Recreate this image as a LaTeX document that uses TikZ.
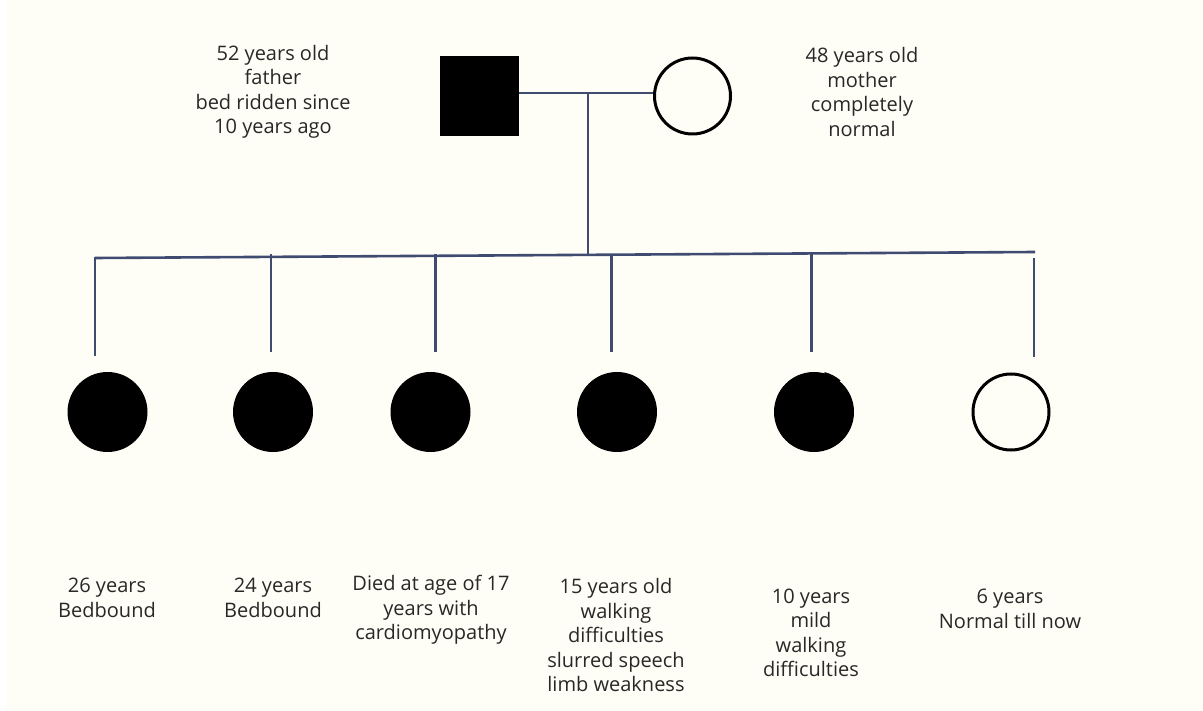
\documentclass[tikz,border=0pt]{standalone}
\usepackage{fontspec}
\setmainfont{Open Sans}
\definecolor{bgcream}{RGB}{255,254,246}
\definecolor{linkblue}{RGB}{64,75,114}
\definecolor{txtgray}{RGB}{40,40,40}
\begin{document}
\begin{tikzpicture}[x=1pt,y=-1pt,
  affsq/.style={fill=black,draw=none,minimum width=79pt,minimum height=80pt,inner sep=0pt},
  affci/.style={circle,fill=black,draw=none,minimum size=80pt,inner sep=0pt},
  unci/.style={circle,draw=black,line width=3pt,fill=bgcream,minimum size=76pt,inner sep=0pt},
  link/.style={draw=linkblue,line width=2.6pt},
  lbl/.style={align=center,font=\fontsize{20}{24.5}\selectfont,text=txtgray,inner sep=0pt}]
\useasboundingbox (0,0) rectangle (1203,711);
\fill[white] (0,0) rectangle (1203,711);
\fill[bgcream] (6,0) rectangle (1203,711);
% parents
\node[affsq] (father) at (479.5,96) {};
\node[unci] (mother) at (692.5,96) {};
\coordinate (m) at (588,93);
\coordinate (sj) at (588,254.5);
\coordinate (sL) at (95,258);
\coordinate (sR) at (1035,252);
\draw[link] (father.east |- m) -- (mother.west |- m);
\draw[link] (m) -- (sj);
\draw[link] (sL) -- (sR);
% children
\node[affci] (c1) at (107.5,412) {};
\node[affci] (c2) at (273,412) {};
\node[affci] (c3) at (430.5,412) {};
\node[affci] (c4) at (617,412) {};
\node[affci] (c5) at (814,412) {};
\node[unci] (c6) at (1011,412) {};
\draw[line width=1.6pt] (c5) ++(-75:40.5) arc (-75:-50:40.5);
% drops
\coordinate (t1) at (95,256.8);
\coordinate (d1) at (95,356);
\coordinate (t2) at (271,254);
\coordinate (d2) at (271,352);
\coordinate (t3) at (435.5,254);
\coordinate (d3) at (435.5,352);
\coordinate (t4) at (611.5,254);
\coordinate (d4) at (611.5,352);
\coordinate (t5) at (811.5,254);
\coordinate (d5) at (811.5,352);
\coordinate (t6) at (1034,258);
\coordinate (d6) at (1034,357);
\foreach \i in {1,...,6} {\draw[link] (t\i) -- (d\i);}
% labels
\node[lbl] (lf) at (273,92) {52 years old\\father\\bed ridden since\\10 years ago};
\node[lbl] (lm) at (862,92) {48 years old\\mother\\completely\\normal};
\node[lbl] (l1) at (107,598) {26 years\\Bedbound};
\node[lbl] (l2) at (273,598) {24 years\\Bedbound};
\node[lbl] (l3) at (431,610) {Died at age of 17\\years with\\cardiomyopathy};
\node[lbl] (l4) at (616,635) {15 years old\\walking\\difficulties\\slurred speech\\limb weakness};
\node[lbl] (l5) at (811,633) {10 years\\mild\\walking\\difficulties};
\node[lbl] (l6) at (1010,609) {6 years\\Normal till now};
\end{tikzpicture}
\end{document}
